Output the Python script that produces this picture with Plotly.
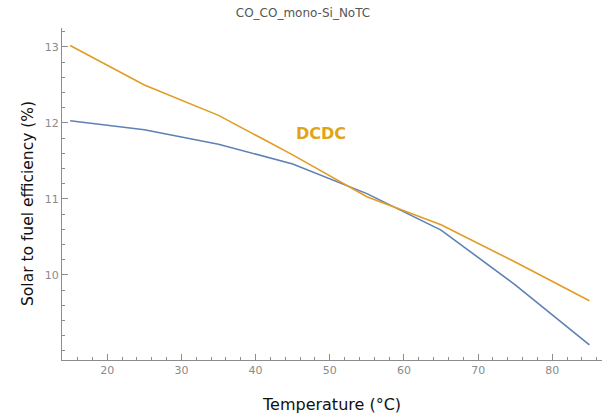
import plotly.graph_objects as go

temperature = [15, 25, 35, 45, 55, 65, 75, 85]
eff_blue = [12.03, 11.91, 11.72, 11.46, 11.07, 10.59, 9.87, 9.08]
eff_dcdc = [13.02, 12.50, 12.10, 11.58, 11.03, 10.66, 10.17, 9.66]
x_ticks = [20, 30, 40, 50, 60, 70, 80]
y_ticks = [10, 11, 12, 13]

fig = go.Figure()
fig.add_trace(go.Scatter(x=temperature, y=eff_blue, mode="lines",
                         line=dict(color="#5E81B5", width=1.6), showlegend=False))
fig.add_trace(go.Scatter(x=temperature, y=eff_dcdc, mode="lines",
                         line=dict(color="#E19C24", width=1.6), showlegend=False))

axis_common = dict(showgrid=False, zeroline=False, showline=True, linecolor="#8c8c8c",
                   linewidth=1.2, ticks="inside", tickcolor="#8c8c8c", tickwidth=1,
                   ticklen=6, tickfont=dict(family="DejaVu Sans", size=11, color="#8a8a8a"))

fig.update_xaxes(range=[13.9, 86.7], tickvals=x_ticks,
                 minor=dict(dtick=2, tick0=0, ticks="inside", ticklen=3,
                            tickcolor="#8c8c8c", tickwidth=1),
                 **axis_common)
fig.update_yaxes(range=[8.88, 13.25], tickvals=y_ticks,
                 minor=dict(dtick=0.2, tick0=0, ticks="inside", ticklen=3,
                            tickcolor="#8c8c8c", tickwidth=1),
                 **axis_common)

plot_l, plot_r, plot_t, plot_b = 62, 602, 28, 360


def px_to_paper(px, py):
    return (px - plot_l) / (plot_r - plot_l), (plot_b - py) / (plot_b - plot_t)


tx, ty = px_to_paper(331, 404)
yx, yy = px_to_paper(28, 204)

fig.update_layout(
    width=606, height=418,
    margin=dict(l=plot_l, r=606 - plot_r, t=plot_t, b=418 - plot_b),
    paper_bgcolor="white", plot_bgcolor="white",
    title=dict(text="CO_CO_mono-Si_NoTC", x=0.5, xanchor="center", y=0.97, yanchor="middle",
               font=dict(family="DejaVu Sans", size=12, color="#555555")),
    annotations=[
        dict(text="DCDC", x=48.8, y=11.86, xref="x", yref="y", showarrow=False,
             xanchor="center", yanchor="middle",
             font=dict(family="DejaVu Sans", size=16, color="#E0A516", weight="bold")),
        dict(text="Temperature (°C)", x=tx, y=ty, xref="paper", yref="paper",
             showarrow=False, xanchor="center", yanchor="middle",
             font=dict(family="DejaVu Sans", size=16, color="#111111")),
        dict(text="Solar to fuel efficiency (%)", x=yx, y=yy, xref="paper", yref="paper",
             showarrow=False, textangle=-90, xanchor="center", yanchor="middle",
             font=dict(family="DejaVu Sans", size=15.5, color="#111111")),
    ],
)

fig.write_html("out.html", config={"displayModeBar": False},
               post_script="document.body.style.margin='0';document.body.style.overflow='hidden';")
